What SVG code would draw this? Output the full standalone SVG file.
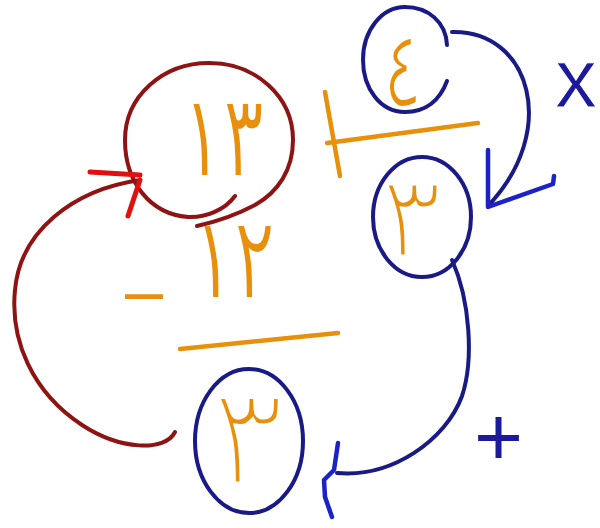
<svg xmlns="http://www.w3.org/2000/svg" width="600" height="528" viewBox="0 0 600 528">
<style>
.bg{fill:#ffffff}
.red{fill:none;stroke:#8e1414;stroke-width:4;stroke-linecap:round;stroke-linejoin:round}
.redhead{fill:none;stroke:#e01010;stroke-width:5;stroke-linecap:round;stroke-linejoin:round}
.blue{fill:none;stroke:#1a1a86;stroke-width:4;stroke-linecap:round;stroke-linejoin:round}
.bluehead{fill:none;stroke:#1a22c8;stroke-width:4.5;stroke-linecap:round;stroke-linejoin:round}
.or{fill:none;stroke:#e8900c;stroke-width:4.5;stroke-linecap:round}
.dig{font-family:"DejaVu Sans",sans-serif;fill:#e8900c;stroke:#ffffff;stroke-width:3}
.bt{font-family:"Liberation Sans",sans-serif;fill:#1a1a9a;stroke:#ffffff;stroke-width:1}
</style>
<rect class="bg" x="0" y="0" width="600" height="528"/>
<g id="labels">
  <line class="or" x1="325" y1="92" x2="340" y2="176"/>
  <line class="or" x1="327" y1="143" x2="478" y2="123"/>
  <text class="dig" x="0" y="0" font-size="60" transform="translate(118,313) scale(2.4,1)" style="stroke:none">-</text>
  <text class="dig" x="193" y="298" font-size="115" textLength="82" lengthAdjust="spacingAndGlyphs" style="stroke-width:2">١٢</text>
  <line class="or" x1="180" y1="349" x2="338" y2="333"/>
  <text class="bt" x="555" y="107" font-size="84">x</text>
  <text class="bt" x="474" y="465" font-size="84" style="stroke:none">+</text>
</g>
<g id="node-13">
  <text class="dig" x="182" y="176" font-size="115" textLength="82" lengthAdjust="spacingAndGlyphs" style="stroke-width:2">١٣</text>
  <path class="red" d="M235,196 C225,210 205,218 188,217 C150,214 125,182 125,140 C125,96 163,63 209,63 C255,63 293,96 293,140 C293,170 278,192 255,205 C238,214 215,222 197,226"/>
</g>
<g id="node-4">
  <text class="dig" x="0" y="0" font-size="110" transform="translate(382,107) scale(0.7,1)" style="stroke-width:4">٤</text>
  <path class="blue" d="M447,81 C440,100 426,112 405,112 C380,112 363,88 363,60 C363,30 382,7 405,7 C428,7 446,22 447,45"/>
</g>
<g id="node-3a">
  <text class="dig" x="379" y="258" font-size="120" style="stroke-width:7">٣</text>
  <ellipse class="blue" cx="422" cy="217" rx="49" ry="60"/>
</g>
<g id="node-3b">
  <text class="dig" x="209" y="486" font-size="144" style="stroke-width:9">٣</text>
  <ellipse class="blue" cx="249" cy="441" rx="54" ry="72"/>
</g>
<g id="connectors">
  <g id="red-arrow">
    <path class="red" d="M175,432 C165,452 120,450 82,425 C32,392 10,340 15,290 C20,232 72,190 140,180"/>
    <path class="redhead" d="M90,172 L140,175 M140,180 L128,216"/>
  </g>
  <g id="blue-arrow-top">
    <path class="blue" d="M452,32 C530,30 560,130 488,206"/>
    <path class="bluehead" d="M488,150 L488,207 L553,184 L554,176"/>
  </g>
  <g id="blue-arrow-bottom">
    <path class="blue" d="M452,260 C470,300 474,360 462,396 C446,440 392,478 337,473"/>
    <path class="bluehead" d="M338,443 L334,470 L324,480 L325,497 L332,517"/>
  </g>
</g>
</svg>
